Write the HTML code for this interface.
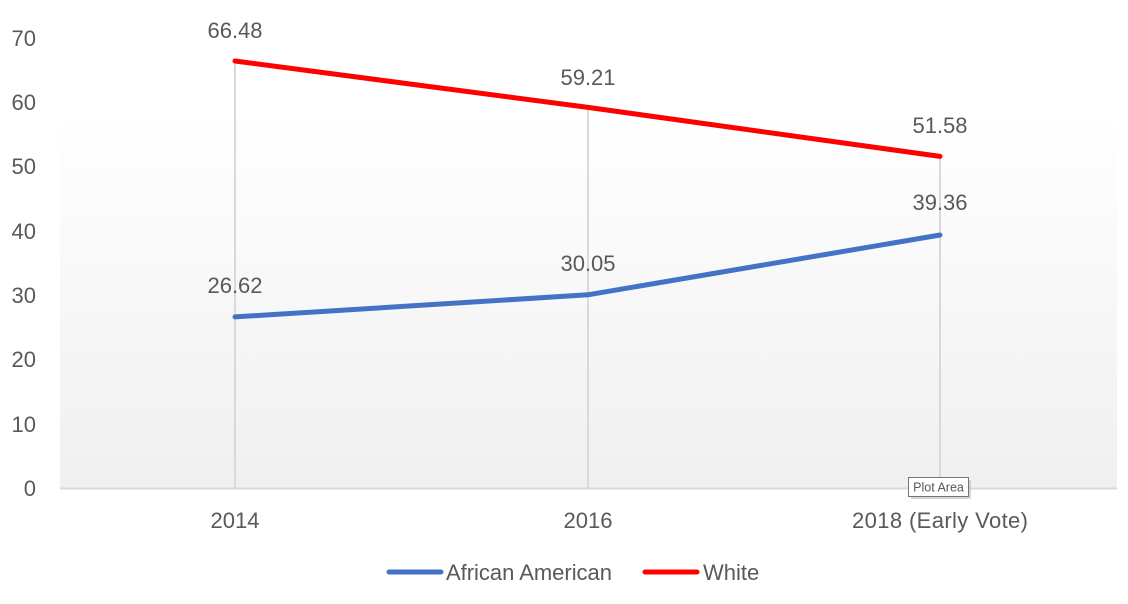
<!DOCTYPE html>
<html>
<head>
<meta charset="utf-8">
<style>
  html, body { margin:0; padding:0; background:#fff; }
  svg { display:block; }
  text { font-family: "Liberation Sans", "DejaVu Sans", sans-serif; fill:#595959; }
</style>
</head>
<body>
<svg width="1128" height="604" viewBox="0 0 1128 604" xmlns="http://www.w3.org/2000/svg">
  <defs>
    <linearGradient id="bg" x1="0" y1="0" x2="0" y2="1">
      <stop offset="0" stop-color="#ffffff"/>
      <stop offset="1" stop-color="#f0f0f0"/>
    </linearGradient>
  </defs>
  <rect x="0" y="0" width="1128" height="604" fill="#ffffff"/>
  <!-- plot area -->
  <rect x="60" y="114" width="1057" height="374" fill="url(#bg)"/>

  <!-- drop lines -->
  <g stroke="#d9d9d9" stroke-width="2">
    <line x1="235" y1="61" x2="235" y2="488"/>
    <line x1="588" y1="107" x2="588" y2="488"/>
    <line x1="940" y1="156" x2="940" y2="488"/>
  </g>
  <!-- x axis -->
  <line x1="60" y1="488.5" x2="1117" y2="488.5" stroke="#d9d9d9" stroke-width="2"/>

  <!-- y labels -->
  <g font-size="22" text-anchor="end">
    <text x="36" y="46">70</text>
    <text x="36" y="110">60</text>
    <text x="36" y="174">50</text>
    <text x="36" y="239">40</text>
    <text x="36" y="303">30</text>
    <text x="36" y="367">20</text>
    <text x="36" y="432">10</text>
    <text x="36" y="496">0</text>
  </g>

  <!-- x labels -->
  <g font-size="22" text-anchor="middle">
    <text x="235" y="528">2014</text>
    <text x="588" y="528">2016</text>
    <text x="940" y="528" textLength="176" lengthAdjust="spacing">2018 (Early Vote)</text>
  </g>

  <!-- series -->
  <polyline points="235,61 588,107.4 940,156.4" fill="none" stroke="#ff0000" stroke-width="5" stroke-linecap="round" stroke-linejoin="round"/>
  <polyline points="235,316.9 588,294.8 940,235" fill="none" stroke="#4472c4" stroke-width="5" stroke-linecap="round" stroke-linejoin="round"/>

  <!-- data labels -->
  <g font-size="22" text-anchor="middle">
    <text x="235" y="38">66.48</text>
    <text x="588" y="85">59.21</text>
    <text x="940" y="133">51.58</text>
    <text x="940" y="210">39.36</text>
    <text x="588" y="271">30.05</text>
    <text x="235" y="293">26.62</text>
  </g>

  <!-- legend -->
  <line x1="389" y1="572" x2="441" y2="572" stroke="#4472c4" stroke-width="5" stroke-linecap="round"/>
  <text x="446" y="580" font-size="22" textLength="166" lengthAdjust="spacing">African American</text>
  <line x1="645" y1="572" x2="697" y2="572" stroke="#ff0000" stroke-width="5" stroke-linecap="round"/>
  <text x="703" y="580" font-size="22">White</text>

  <!-- tooltip -->
  <rect x="911" y="480" width="60" height="19" fill="#bbbbbb" opacity="0.6"/>
  <rect x="908.5" y="477.5" width="60" height="19" fill="#ffffff" stroke="#767676" stroke-width="1"/>
  <text x="938.5" y="491.5" font-size="12.5" text-anchor="middle" style="fill:#575757">Plot Area</text>
</svg>
</body>
</html>
